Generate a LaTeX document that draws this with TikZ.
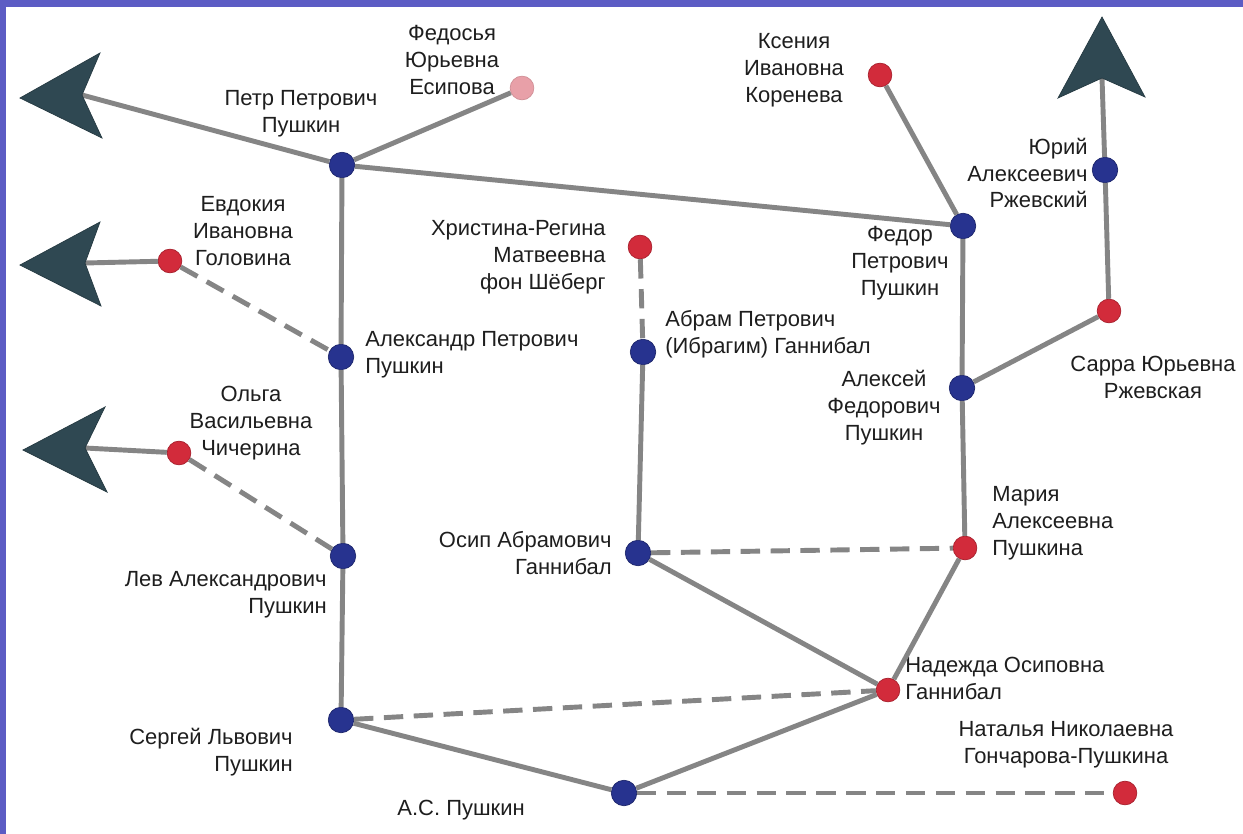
\documentclass[tikz,border=0pt]{standalone}
\usepackage{fontspec}
\setmainfont{Liberation Sans}
\definecolor{frameblue}{HTML}{5C5CC4}
\definecolor{linegray}{HTML}{858585}
\definecolor{dotblue}{HTML}{27338F}
\definecolor{dotred}{HTML}{D22B3B}
\definecolor{dotpink}{HTML}{E8A0A8}
\definecolor{arrowfill}{HTML}{2F4852}
\definecolor{txt}{HTML}{1E1E1E}
\begin{document}
\begin{tikzpicture}[x=0.02cm,y=-0.02cm,
  bluedot/.style={circle,fill=dotblue,draw=dotblue!75!black,line width=0.4pt,minimum size=14.5pt,inner sep=0pt},
  reddot/.style={circle,fill=dotred,draw=dotred!80!black,line width=0.4pt,minimum size=13.5pt,inner sep=0pt},
  pinkdot/.style={circle,fill=dotpink,draw=dotpink!90!black,line width=0.4pt,minimum size=13.5pt,inner sep=0pt},
  link/.style={draw=linegray,line width=2.8pt},
  dlink/.style={link,dash pattern=on 11pt off 6pt},
  lbl/.style={font=\fontsize{12.5}{15.3}\selectfont,text=txt,inner sep=0pt},
  dart/.style={fill=arrowfill,draw=arrowfill!80!black,line width=0.4pt}
]
\useasboundingbox (0,0) rectangle (1243,834);
\fill[white] (0,0) rectangle (1243,834);
\fill[frameblue] (0,0) rectangle (1243,7);
\fill[frameblue] (0,0) rectangle (6,834);

% dots
\node[bluedot] (ppp) at (342,165) {};
\node[pinkdot] (fye) at (522,88) {};
\node[reddot]  (eig) at (170,261) {};
\node[bluedot] (app) at (341,357) {};
\node[reddot]  (ovc) at (179,453) {};
\node[bluedot] (lap) at (343,556) {};
\node[bluedot] (slp) at (341,720) {};
\node[bluedot] (asp) at (624,793) {};
\node[reddot]  (nng) at (1125,793) {};
\node[reddot]  (nog) at (888,690) {};
\node[bluedot] (oag) at (638,553) {};
\node[reddot]  (map) at (965,548) {};
\node[bluedot] (apg) at (643,352) {};
\node[reddot]  (hrm) at (640,247) {};
\node[reddot]  (kik) at (880,75) {};
\node[bluedot] (fpp) at (963,226) {};
\node[bluedot] (afp) at (962,388) {};
\node[reddot]  (syr) at (1109,311) {};
\node[bluedot] (yar) at (1105,170) {};

% labels
\node[lbl,align=center] (tppp) at (301,114) {Петр Петрович\\Пушкин};
\node[lbl,align=center] (tfye) at (452,60) {Федосья\\Юрьевна\\Есипова};
\node[lbl,align=center] (teig) at (243,231) {Евдокия\\Ивановна\\Головина};
\node[lbl,align=left,anchor=west] (tapp) at (365,355) {Александр Петрович\\Пушкин};
\node[lbl,align=center] (tovc) at (251,423) {Ольга\\Васильевна\\Чичерина};
\node[lbl,align=right,anchor=east] (tlap) at (327,595) {Лев Александрович\\Пушкин};
\node[lbl,align=right,anchor=east] (tslp) at (293,752) {Сергей Львович\\Пушкин};
\node[lbl,anchor=east] (tasp) at (525,810) {А.С. Пушкин};
\node[lbl,align=left,anchor=west] (tnog) at (905,678) {Надежда Осиповна\\Ганнибал};
\node[lbl,align=center] (tnng) at (1066,745) {Наталья Николаевна\\Гончарова-Пушкина};
\node[lbl,align=right,anchor=east] (toag) at (612,553) {Осип Абрамович\\Ганнибал};
\node[lbl,align=left,anchor=west] (tapg) at (665,334) {Абрам Петрович\\(Ибрагим) Ганнибал};
\node[lbl,align=right,anchor=east] (thrm) at (606,257) {Христина-Регина\\Матвеевна\\фон Шёберг};
\node[lbl,align=center] (tkik) at (794,70) {Ксения\\Ивановна\\Коренева};
\node[lbl,align=right,anchor=east] (tyar) at (1088,173) {Юрий\\Алексеевич\\Ржевский};
\node[lbl,align=center] (tfpp) at (900,263) {Федор\\Петрович\\Пушкин};
\node[lbl,align=center] (tafp) at (884,408) {Алексей\\Федорович\\Пушкин};
\node[lbl,align=center] (tsyr) at (1153,377) {Сарра Юрьевна\\Ржевская};
\node[lbl,align=left,anchor=west] (tmap) at (992,523) {Мария\\Алексеевна\\Пушкина};

% arrow notches
\coordinate (n1) at (82,95);
\coordinate (n2) at (85,263);
\coordinate (n3) at (85,448);
\coordinate (n4) at (1102,78);

% solid links
\draw[link] (ppp) -- (n1);
\draw[link] (ppp) -- (fye);
\draw[link] (ppp) -- (fpp);
\draw[link] (ppp) -- (app);
\draw[link] (app) -- (lap);
\draw[link] (lap) -- (slp);
\draw[link] (slp) -- (asp);
\draw[link] (asp) -- (nog);
\draw[link] (nog) -- (oag);
\draw[link] (nog) -- (map);
\draw[link] (map) -- (afp);
\draw[link] (afp) -- (fpp);
\draw[link] (fpp) -- (kik);
\draw[link] (afp) -- (syr);
\draw[link] (syr) -- (yar);
\draw[link] (yar) -- (n4);
\draw[link] (apg) -- (oag);
\draw[link] (eig) -- (n2);
\draw[link] (ovc) -- (n3);

% dashed links
\draw[dlink] (eig) -- (app);
\draw[dlink] (ovc) -- (lap);
\draw[dlink] (hrm) -- (apg);
\draw[dlink] (oag) -- (map);
\draw[dlink] (slp) -- (nog);
\draw[dlink] (asp) -- (nng);

% arrow heads
\draw[dart] (20,98) -- (100,53) -- (n1) -- (102,138) -- cycle;
\draw[dart] (20,265) -- (100,222) -- (n2) -- (101,306) -- cycle;
\draw[dart] (23,450) -- (105,407) -- (n3) -- (107,492) -- cycle;
\draw[dart] (1102,17) -- (1058,98) -- (n4) -- (1145,97) -- cycle;
\end{tikzpicture}
\end{document}
